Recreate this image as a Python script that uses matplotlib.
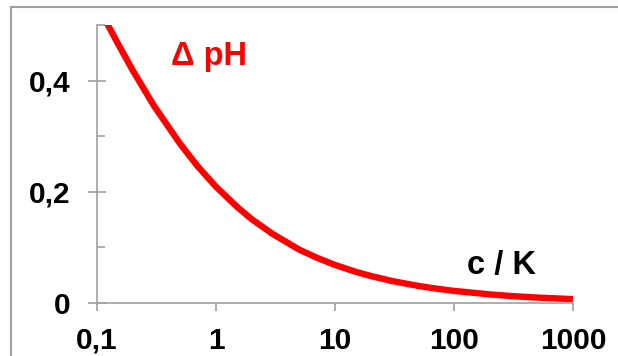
import matplotlib
matplotlib.use("Agg")
import matplotlib.pyplot as plt
from matplotlib.lines import Line2D
from matplotlib.ticker import FixedLocator, FixedFormatter, NullLocator

# Data: c/K ratio vs. delta pH
c_over_K = [0.1, 0.12, 0.15, 0.2, 0.3, 0.5, 0.7, 1, 1.5, 2, 3, 5, 7, 10,
            15, 20, 30, 50, 70, 100, 200, 300, 500, 1000]
delta_pH = [0.538, 0.505, 0.466, 0.418, 0.355, 0.286, 0.246, 0.209, 0.173,
            0.1505, 0.124, 0.096, 0.0816, 0.0684, 0.0559, 0.0485, 0.0396,
            0.0307, 0.026, 0.0217, 0.0154, 0.0125, 0.0097, 0.0069]

x_ticks = [0.1, 1, 10, 100, 1000]
x_labels = ["0,1", "1", "10", "100", "1000"]
y_ticks = [0, 0.2, 0.4]
y_labels = ["0", "0,2", "0,4"]
y_minor = [0.1, 0.3, 0.5]

plt.rcParams['font.family'] = ['Liberation Sans', 'DejaVu Sans']
plt.rcParams['font.weight'] = 'bold'

fig = plt.figure(figsize=(6.18, 3.56), dpi=100)
ax = fig.add_axes([0.157, 0.149, 0.770, 0.781])

ax.plot(c_over_K, delta_pH, color='#FF0000', lw=4.6, solid_capstyle='butt', clip_on=True)

ax.set_xscale('log')
ax.set_xlim(0.1, 1000)
ax.set_ylim(0, 0.5)

ax.xaxis.set_major_locator(FixedLocator(x_ticks))
ax.xaxis.set_major_formatter(FixedFormatter(x_labels))
ax.xaxis.set_minor_locator(NullLocator())
ax.yaxis.set_major_locator(FixedLocator(y_ticks))
ax.yaxis.set_major_formatter(FixedFormatter(y_labels))
ax.yaxis.set_minor_locator(FixedLocator(y_minor))

gray = '#A0A0A0'
for s in ['top', 'right']:
    ax.spines[s].set_visible(False)
for s in ['left', 'bottom']:
    ax.spines[s].set_color(gray)
    ax.spines[s].set_linewidth(1.2)

ax.tick_params(axis='x', which='major', direction='out', length=6, width=1.2,
               color=gray, pad=11, labelsize=21.5)
ax.tick_params(axis='y', which='major', direction='inout', length=12.5, width=1.2,
               color=gray, pad=12.5, labelsize=21.5)
ax.tick_params(axis='y', which='minor', direction='in', length=6, width=1.2,
               color=gray)
for lab in ax.get_xticklabels() + ax.get_yticklabels():
    lab.set_fontweight('bold')

ax.text(0.155, 0.856, "Δ pH", transform=ax.transAxes, color='#FF0000',
        fontsize=23.5, fontweight='bold', ha='left', va='baseline')
ax.text(0.777, 0.104, "c / K", transform=ax.transAxes, color='black',
        fontsize=23.5, fontweight='bold', ha='left', va='baseline')

# outer frame (top and left edges visible)
W, H = 618, 356
fig.add_artist(Line2D([11 / W, 1.0], [1 - 7 / H, 1 - 7 / H], color=gray, lw=1.5,
                      transform=fig.transFigure))
fig.add_artist(Line2D([11 / W, 11 / W], [0, 1 - 7 / H], color=gray, lw=1.5,
                      transform=fig.transFigure))

fig.savefig("out.png", dpi=100)
